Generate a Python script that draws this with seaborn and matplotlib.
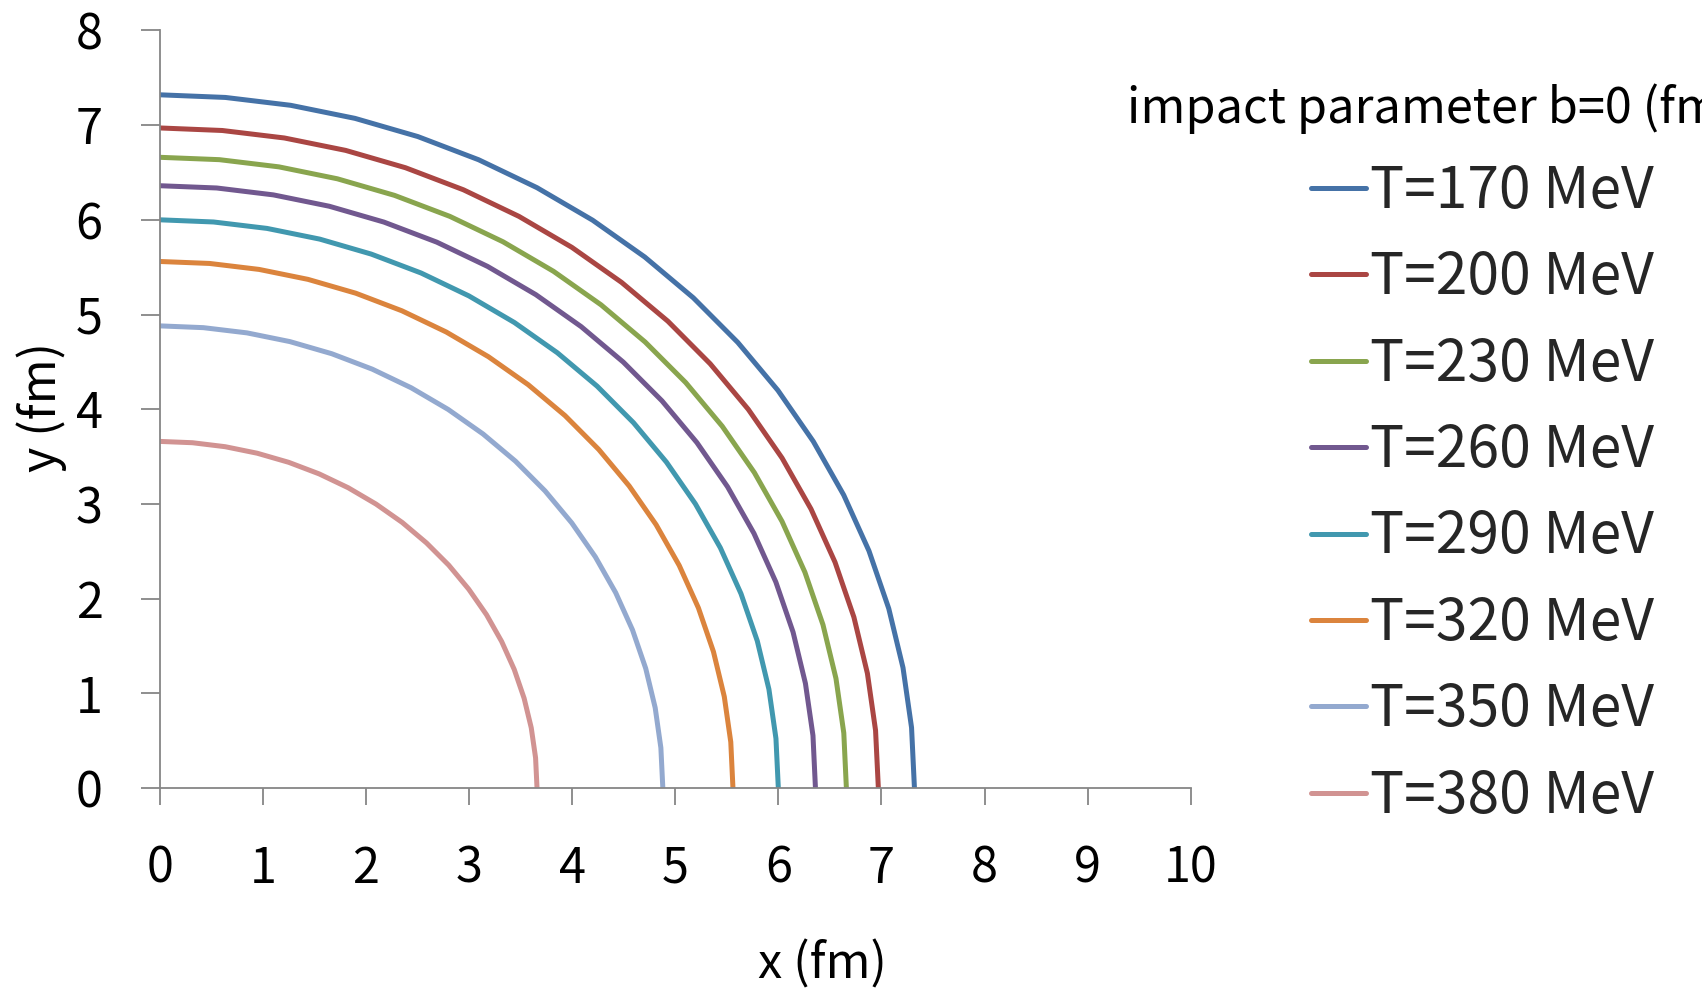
import matplotlib
matplotlib.use("Agg")
import matplotlib.pyplot as plt
from matplotlib.lines import Line2D
import seaborn as sns
import pandas as pd

# ---- data ----
labels = ["T=170 MeV", "T=200 MeV", "T=230 MeV", "T=260 MeV",
          "T=290 MeV", "T=320 MeV", "T=350 MeV", "T=380 MeV"]

x_170 = [0, 0.638, 1.271, 1.895, 2.504, 3.094, 3.660, 4.199, 4.705, 5.176,
         5.607, 5.996, 6.339, 6.634, 6.879, 7.071, 7.209, 7.292, 7.32]
y_170 = [7.32, 7.292, 7.209, 7.071, 6.879, 6.634, 6.339, 5.996, 5.607, 5.176,
         4.705, 4.199, 3.660, 3.094, 2.504, 1.895, 1.271, 0.638, 0]
x_200 = [0, 0.608, 1.210, 1.804, 2.384, 2.946, 3.485, 3.998, 4.480, 4.929,
         5.339, 5.709, 6.036, 6.317, 6.550, 6.733, 6.864, 6.943, 6.97]
y_200 = [6.97, 6.943, 6.864, 6.733, 6.550, 6.317, 6.036, 5.709, 5.339, 4.929,
         4.480, 3.998, 3.485, 2.946, 2.384, 1.804, 1.210, 0.608, 0]
x_230 = [0, 0.580, 1.157, 1.724, 2.278, 2.815, 3.330, 3.820, 4.281, 4.709,
         5.102, 5.456, 5.768, 6.036, 6.258, 6.433, 6.559, 6.635, 6.66]
y_230 = [6.66, 6.635, 6.559, 6.433, 6.258, 6.036, 5.768, 5.456, 5.102, 4.709,
         4.281, 3.820, 3.330, 2.815, 2.278, 1.724, 1.157, 0.580, 0]
x_260 = [0, 0.554, 1.104, 1.646, 2.175, 2.688, 3.180, 3.648, 4.088, 4.497,
         4.872, 5.210, 5.508, 5.764, 5.976, 6.143, 6.263, 6.336, 6.36]
y_260 = [6.36, 6.336, 6.263, 6.143, 5.976, 5.764, 5.508, 5.210, 4.872, 4.497,
         4.088, 3.648, 3.180, 2.688, 2.175, 1.646, 1.104, 0.554, 0]
x_290 = [0, 0.523, 1.042, 1.553, 2.052, 2.536, 3.000, 3.441, 3.857, 4.243,
         4.596, 4.915, 5.196, 5.438, 5.638, 5.796, 5.909, 5.977, 6.00]
y_290 = [6.00, 5.977, 5.909, 5.796, 5.638, 5.438, 5.196, 4.915, 4.596, 4.243,
         3.857, 3.441, 3.000, 2.536, 2.052, 1.553, 1.042, 0.523, 0]
x_320 = [0, 0.485, 0.965, 1.439, 1.902, 2.350, 2.780, 3.189, 3.574, 3.932,
         4.259, 4.554, 4.815, 5.039, 5.225, 5.371, 5.476, 5.539, 5.56]
y_320 = [5.56, 5.539, 5.476, 5.371, 5.225, 5.039, 4.815, 4.554, 4.259, 3.932,
         3.574, 3.189, 2.780, 2.350, 1.902, 1.439, 0.965, 0.485, 0]
x_350 = [0, 0.425, 0.847, 1.263, 1.669, 2.062, 2.440, 2.799, 3.137, 3.451,
         3.738, 3.997, 4.226, 4.423, 4.586, 4.714, 4.806, 4.861, 4.88]
y_350 = [4.88, 4.861, 4.806, 4.714, 4.586, 4.423, 4.226, 3.997, 3.738, 3.451,
         3.137, 2.799, 2.440, 2.062, 1.669, 1.263, 0.847, 0.425, 0]
x_380 = [0, 0.319, 0.636, 0.947, 1.252, 1.547, 1.830, 2.099, 2.353, 2.588,
         2.804, 2.998, 3.170, 3.317, 3.439, 3.535, 3.604, 3.646, 3.66]
y_380 = [3.66, 3.646, 3.604, 3.535, 3.439, 3.317, 3.170, 2.998, 2.804, 2.588,
         2.353, 2.099, 1.830, 1.547, 1.252, 0.947, 0.636, 0.319, 0]

xs = [x_170, x_200, x_230, x_260, x_290, x_320, x_350, x_380]
ys = [y_170, y_200, y_230, y_260, y_290, y_320, y_350, y_380]

x_ticks = [0, 1, 2, 3, 4, 5, 6, 7, 8, 9, 10]
y_ticks = [0, 1, 2, 3, 4, 5, 6, 7, 8]

legend_title = "impact parameter b=0 (fm)"
colors = ["#4572A7", "#AA4643", "#89A54E", "#71588F",
          "#4198AF", "#DB843D", "#93A9CF", "#D19392"]

rows = []
for lab, xv, yv in zip(labels, xs, ys):
    for a, b in zip(xv, yv):
        rows.append({"x": a, "y": b, "T": lab})
df = pd.DataFrame(rows)

sns.set_theme(style="white")
plt.rcParams["font.family"] = ["Noto Sans CJK KR", "DejaVu Sans"]

W, H = 1702, 990
fig = plt.figure(figsize=(W / 100, H / 100), dpi=100)
ax = fig.add_axes([159.6 / W, 1 - 788 / H, (1190.8 - 159.6) / W, (788 - 30.4) / H])

sns.lineplot(data=df, x="x", y="y", hue="T", hue_order=labels, palette=colors,
             sort=False, estimator=None, linewidth=3.6, ax=ax, legend=False)

ax.set_xlim(0, 10)
ax.set_ylim(0, 8)
ax.set_xticks(x_ticks)
ax.set_yticks(y_ticks)
ax.set_xticklabels([str(t) for t in x_ticks])
ax.set_yticklabels([str(t) for t in y_ticks])

for s in ["top", "right"]:
    ax.spines[s].set_visible(False)
for s in ["left", "bottom"]:
    ax.spines[s].set_color("#868686")
    ax.spines[s].set_linewidth(1.3)

ax.tick_params(axis="y", direction="out", length=14, width=1.3, color="#868686",
               pad=27, labelsize=35, labelcolor="black", left=True)
ax.tick_params(axis="x", direction="out", length=12.5, width=1.3, color="#868686",
               pad=28, labelsize=35, labelcolor="black", bottom=True)

ax.set_xlabel("x (fm)", fontsize=35, color="black")
ax.set_ylabel("y (fm)", fontsize=35, color="black")
ax.xaxis.set_label_coords(0.643, -0.20)
ax.yaxis.set_label_coords(-0.09, 0.503)
ax.grid(False)

# legend
handles = [Line2D([0], [0], color=c, lw=3.6) for c in colors]
fig.legend(handles, labels, loc="center left",
           bbox_to_anchor=(1311 / W, 1 - 494 / H),
           frameon=False, fontsize=41, handlelength=0.97, handletextpad=0.07,
           borderpad=0, borderaxespad=0, labelspacing=0.49)
fig.text(1127 / W, 1 - 108.5 / H, legend_title, fontsize=35,
         ha="left", va="center", color="black")

fig.savefig("out.png", dpi=100)
